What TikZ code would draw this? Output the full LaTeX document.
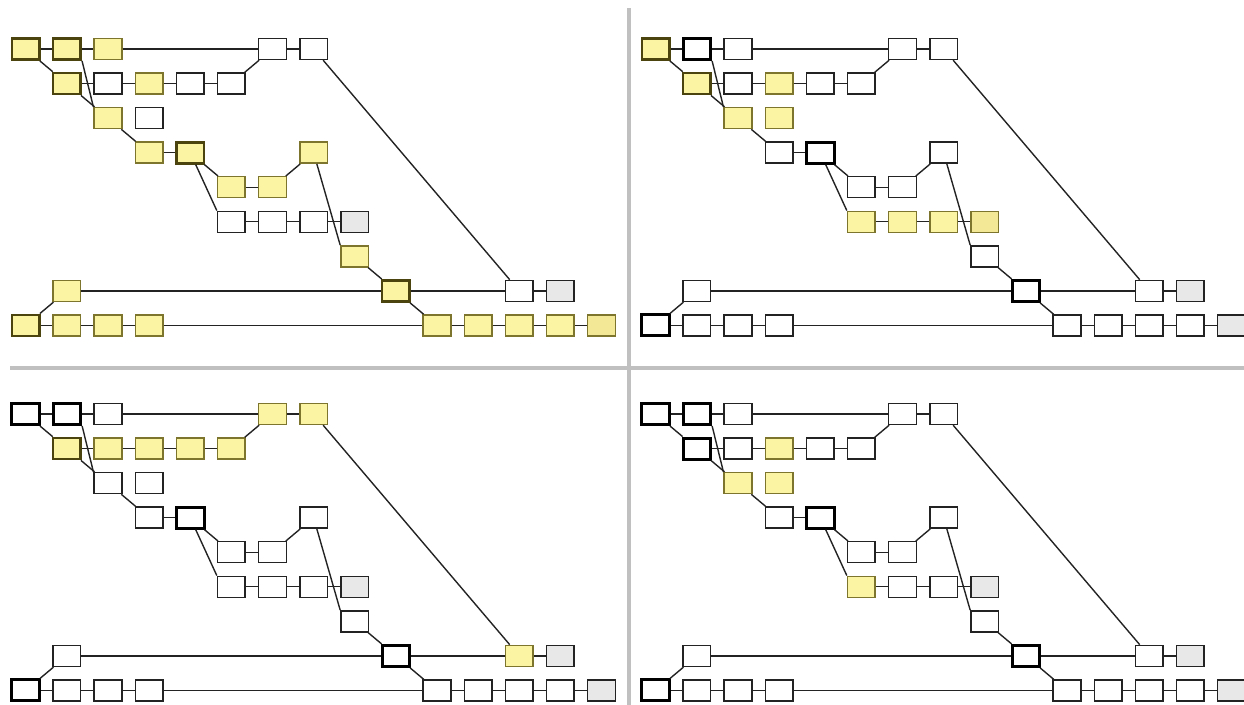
\documentclass[tikz,border=0pt]{standalone}
\usetikzlibrary{positioning}
\definecolor{revYellow}{RGB}{251, 245, 163}
\definecolor{revGrayYellow}{RGB}{242, 232, 150}
\definecolor{revOlive}{RGB}{125, 116, 45}
\definecolor{revDarkOlive}{RGB}{75, 68, 15}
\definecolor{revGray}{RGB}{232, 232, 232}
\definecolor{revLine}{RGB}{35, 35, 35}
\definecolor{revSep}{RGB}{192, 192, 192}

% default look of every revision, changed per panel
\tikzset{
  nA/.style={},nB/.style={},nC/.style={},nD/.style={},nE/.style={},
  nF/.style={},nG/.style={},nH/.style={},nI/.style={},nJ/.style={},
  nK/.style={},nL/.style={},nM/.style={},nN/.style={},nO/.style={},
  nP/.style={},nQ/.style={},nR/.style={},nS/.style={},nT/.style={},
  nU/.style=grayrev,nV/.style={},nW/.style={},nX/.style={},nY/.style={},
  nZ/.style=grayrev,na/.style={},nb/.style={},nc/.style={},nd/.style={},
  ne/.style={},nf/.style={},ng/.style={},nh/.style={},ni/.style=grayrev
}

\newcommand{\revnodes}[1]{%
  \foreach \n/\col/\row in {A/0/0,B/1/0,C/2/0,D/6/0,E/7/0,
      F/1/1,G/2/1,H/3/1,I/4/1,J/5/1,
      K/2/2,L/3/2,
      M/3/3,N/4/3,O/7/3,
      P/5/4,Q/6/4,
      R/5/5,S/6/5,T/7/5,U/8/5,
      V/8/6,
      W/1/7,X/9/7,Y/12/7,Z/13/7,
      a/0/8,b/1/8,c/2/8,d/3/8,e/10/8,f/11/8,g/12/8,h/13/8,i/14/8}
    \node[rev,n\n] (#1-\n) at ({25.7+41.13*\col},{49+34.56*\row}) {};
}

\newcommand{\revlinks}[1]{%
  \foreach \u/\v in {A/B,B/C,C/D,D/E,A/F,F/G,G/H,H/I,I/J,J/D,
      F/K,B.south east/K.north west,K/M,M/N,N/P,P/Q,Q/O,N/R.north west,
      R/S,S/T,T/U,O/V.north west,V/X,E/Y,
      W/X,X/Y,Y/Z,a/W,a/b,b/c,c/d,d/e,e/f,f/g,g/h,h/i,X/e}
    \draw[link] (#1-\u) -- (#1-\v);
}

\begin{document}
\begin{tikzpicture}[
  x=0.5pt, y=-0.5pt,
  rev/.style={
    draw=revLine,
    fill=white,
    line width=0.75pt,
    inner sep=0pt,
    minimum width=13.8pt,
    minimum height=10.5pt
  },
  yel/.style={fill=revYellow,draw=revOlive},
  yelhl/.style={fill=revYellow,draw=revDarkOlive,line width=1.4pt},
  hl/.style={draw=black,line width=1.5pt},
  grayrev/.style={fill=revGray,draw=revLine},
  grayyel/.style={fill=revGrayYellow,draw=revOlive},
  link/.style={draw=revLine,line width=0.7pt},
  divider/.style={draw=revSep,line width=2pt}
]
  \useasboundingbox (0,0) rectangle (1244,705);
  \clip (0,0) rectangle (1244,705);

  \draw[divider] (629,8) -- (629,705);
  \draw[divider] (10,368) -- (1244,368);

  % top left
  \begin{scope}[nA/.style=yelhl,nB/.style=yelhl,nC/.style=yel,nF/.style=yelhl,
      nH/.style=yel,nK/.style=yel,nM/.style=yel,nN/.style=yelhl,nO/.style=yel,
      nP/.style=yel,nQ/.style=yel,nV/.style=yel,nW/.style=yel,nX/.style=yelhl,
      na/.style=yelhl,nb/.style=yel,nc/.style=yel,nd/.style=yel,ne/.style=yel,
      nf/.style=yel,ng/.style=yel,nh/.style=yel,ni/.style=grayyel]
    \revnodes{tl}
    \revlinks{tl}
  \end{scope}

  % top right
  \begin{scope}[shift={(630,0)},nA/.style=yelhl,nB/.style=hl,nF/.style=yelhl,
      nH/.style=yel,nK/.style=yel,nL/.style=yel,nN/.style=hl,nR/.style=yel,
      nS/.style=yel,nT/.style=yel,nU/.style=grayyel,nX/.style=hl,na/.style=hl]
    \revnodes{tr}
    \revlinks{tr}
  \end{scope}

  % bottom left
  \begin{scope}[shift={(0,365)},nA/.style=hl,nB/.style=hl,nD/.style=yel,
      nE/.style=yel,nF/.style=yelhl,nG/.style=yel,nH/.style=yel,nI/.style=yel,
      nJ/.style=yel,nN/.style=hl,nX/.style=hl,nY/.style=yel,na/.style=hl]
    \revnodes{bl}
    \revlinks{bl}
  \end{scope}

  % bottom right
  \begin{scope}[shift={(630,365)},nA/.style=hl,nB/.style=hl,nF/.style=hl,
      nH/.style=yel,nK/.style=yel,nL/.style=yel,nN/.style=hl,nR/.style=yel,
      nX/.style=hl,na/.style=hl]
    \revnodes{br}
    \revlinks{br}
  \end{scope}
\end{tikzpicture}
\end{document}
